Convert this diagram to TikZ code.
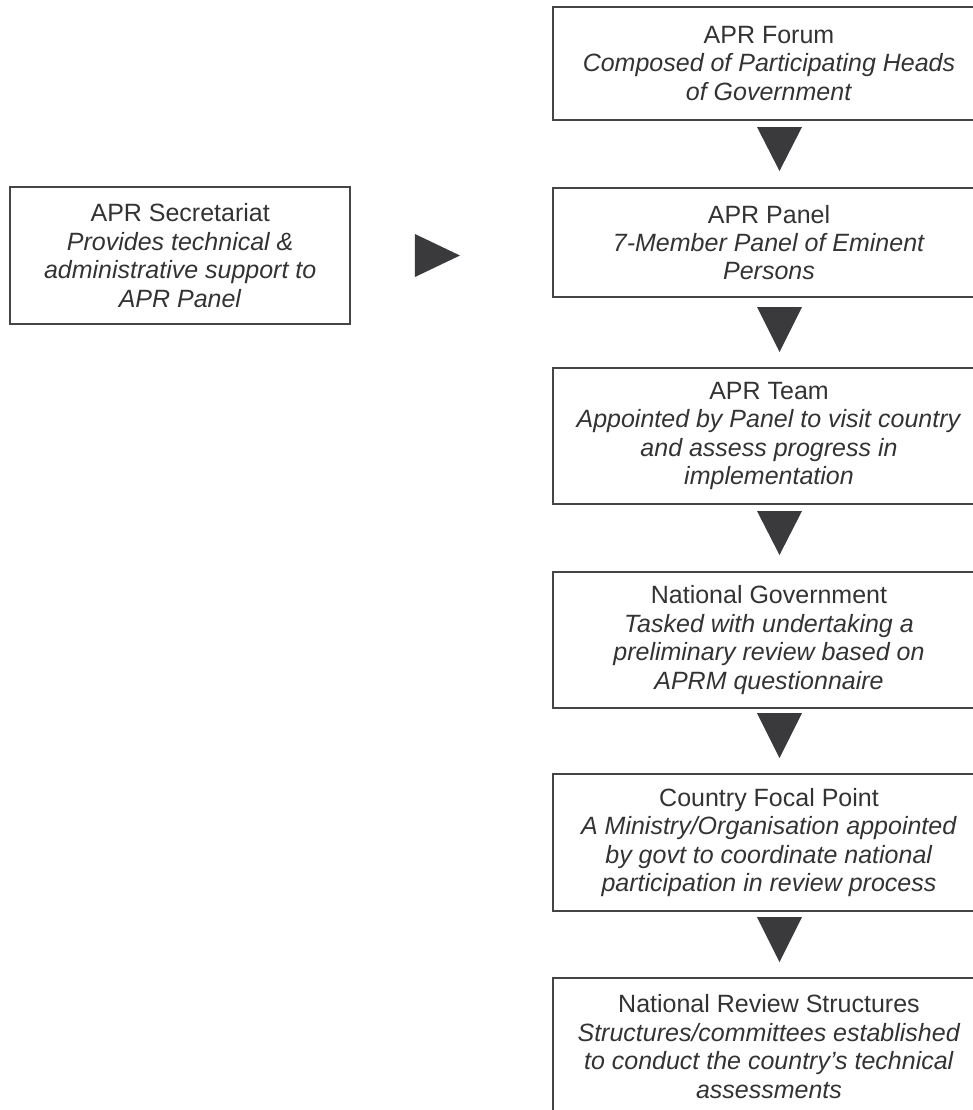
\documentclass[tikz,border=0pt]{standalone}
\usepackage{fontspec}
\setmainfont{Liberation Sans}
\usepackage{tikz}
\usetikzlibrary{positioning,calc}
\definecolor{boxline}{HTML}{454545}
\definecolor{textgray}{HTML}{333333}
\definecolor{arrowgray}{HTML}{3A393C}

\begin{document}
\begin{tikzpicture}[node distance=34pt]
  \tikzset{aprbox/.style={draw=boxline,line width=1pt,text=textgray,align=center,inner sep=0pt,outer sep=0pt,
      font=\fontsize{12.5}{14.2}\selectfont,minimum width=216pt},
    bigarrow/.style={fill=arrowgray}}
  \useasboundingbox (0,0) rectangle (486.5pt,-555pt);
  % right column
  \node[aprbox,minimum height=56.5pt] (forum) at (384.5pt,-31.75pt) {APR Forum\\ \textit{Composed of Participating Heads}\\ \textit{of Government}};
  \node[aprbox,below=of forum,minimum height=54.5pt] (panel) {APR Panel\\ \textit{7-Member Panel of Eminent}\\ \textit{Persons}};
  \node[aprbox,below=35.5pt of panel,minimum height=68pt] (team) {APR Team\\ \textit{Appointed by Panel to visit country}\\ \textit{and assess progress in}\\ \textit{implementation}};
  \node[aprbox,below=of team,minimum height=68pt] (natgov) {National Government\\ \textit{Tasked with undertaking a}\\ \textit{preliminary review based on}\\ \textit{APRM questionnaire}};
  \node[aprbox,below=33pt of natgov,minimum height=68.5pt] (focal) {Country Focal Point\\ \textit{A Ministry/Organisation appointed}\\ \textit{by govt to coordinate national}\\ \textit{participation in review process}};
  \node[aprbox,below=33.5pt of focal,minimum height=68.5pt] (review) {National Review Structures\\ \textit{Structures/committees established}\\ \textit{to conduct the country’s technical}\\ \textit{assessments}};
  % left box
  \node[aprbox,minimum width=169.75pt,minimum height=68.5pt] (secr) at (90.1pt,-127.75pt) {APR Secretariat\\ \textit{Provides technical \&}\\ \textit{administrative support to}\\ \textit{APR Panel}};
  % triangles
  \fill[bigarrow] ($(forum.south)+(-6pt,-3.5pt)$) -- ++(22.5pt,0) -- ++(-11.25pt,-22pt) -- cycle;
  \fill[bigarrow] ($(panel.south)+(-6pt,-5pt)$) -- ++(22.5pt,0) -- ++(-11.25pt,-22.5pt) -- cycle;
  \fill[bigarrow] ($(team.south)+(-6pt,-3.5pt)$) -- ++(22.5pt,0) -- ++(-11.25pt,-22pt) -- cycle;
  \fill[bigarrow] ($(natgov.south)+(-6pt,-2.5pt)$) -- ++(22.5pt,0) -- ++(-11.25pt,-22.5pt) -- cycle;
  \fill[bigarrow] ($(focal.south)+(-6pt,-3pt)$) -- ++(22.5pt,0) -- ++(-11.25pt,-22.5pt) -- cycle;
  \fill[bigarrow] ($(secr.east)+(32.5pt,10.75pt)$) -- ++(0,-21.5pt) -- ++(22.5pt,10.75pt) -- cycle;
\end{tikzpicture}
\end{document}
